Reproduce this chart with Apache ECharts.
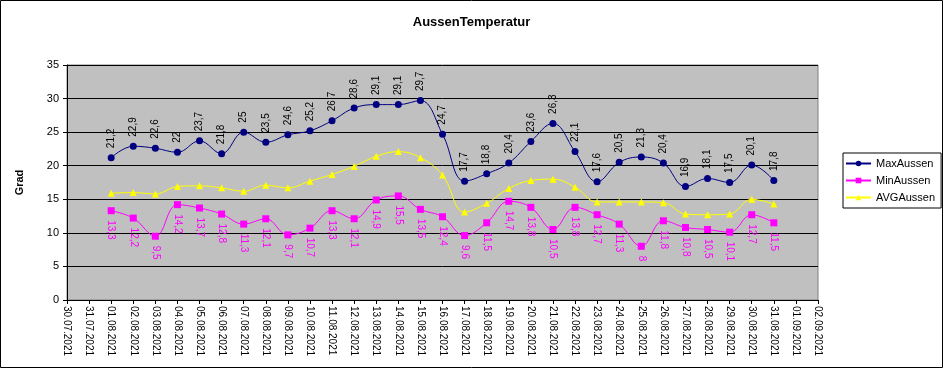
<!DOCTYPE html>
<html>
<head>
<meta charset="utf-8">
<script src="https://cdn.jsdelivr.net/npm/echarts@6/dist/echarts.min.js"></script>
<style>
html,body{margin:0;padding:0;background:#fff;}
#chart{width:943px;height:368px;}
</style>
</head>
<body>
<div id="chart"></div>
<script>
// x-axis category labels (ticks)
const dates = ['30.07.2021','31.07.2021','01.08.2021','02.08.2021','03.08.2021','04.08.2021','05.08.2021','06.08.2021','07.08.2021','08.08.2021','09.08.2021','10.08.2021','11.08.2021','12.08.2021','13.08.2021','14.08.2021','15.08.2021','16.08.2021','17.08.2021','18.08.2021','19.08.2021','20.08.2021','21.08.2021','22.08.2021','23.08.2021','24.08.2021','25.08.2021','26.08.2021','27.08.2021','28.08.2021','29.08.2021','30.08.2021','31.08.2021','01.09.2021','02.09.2021'];
// data starts at 01.08.2021
const dataStart = '01.08.2021';
const maxAussen = [21.2,22.9,22.6,22,23.7,21.8,25,23.5,24.6,25.2,26.7,28.6,29.1,29.1,29.7,24.7,17.7,18.8,20.4,23.6,26.3,22.1,17.6,20.5,21.3,20.4,16.9,18.1,17.5,20.1,17.8];
const minAussen = [13.3,12.2,9.5,14.2,13.7,12.8,11.3,12.1,9.7,10.7,13.3,12.1,14.9,15.5,13.5,12.4,9.6,11.5,14.7,13.8,10.5,13.8,12.7,11.3,8,11.8,10.8,10.5,10.1,12.7,11.5];
const avgAussen = [15.9,16.0,15.8,16.9,17.0,16.7,16.2,17.1,16.7,17.7,18.7,19.9,21.4,22.1,21.2,18.6,13.1,14.4,16.6,17.8,18.0,16.8,14.6,14.6,14.6,14.5,12.8,12.7,12.8,15.0,14.3];
const yTicks = {min:0, max:35, interval:5};

function pad(arr){
  const off = dates.indexOf(dataStart);
  return dates.map((d,i)=>{ const k=i-off; return (k>=0 && k<arr.length) ? arr[k] : null; });
}
const fmt = p => String(p.value).replace('.', ',');
const FONT = 'Liberation Sans, Arial, sans-serif';

const chart = echarts.init(document.getElementById('chart'), null, {renderer:'canvas'});
chart.setOption({
  backgroundColor:'#ffffff',
  animation:false,
  title:{text:'AussenTemperatur', left:'center', top:11,
    textStyle:{fontFamily:FONT, fontSize:13, fontWeight:'bold', color:'#000'}},
  graphic:[{type:'rect', shape:{x:0.5,y:0.5,width:942,height:367}, style:{fill:'none', stroke:'#000', lineWidth:1}, silent:true, z:100}],
  legend:{
    orient:'vertical', left:843, top:153,
    borderColor:'#000', borderWidth:1, padding:[5,6,5,2], itemGap:6,
    itemWidth:25, itemHeight:7,
    textStyle:{fontFamily:FONT, fontSize:11, color:'#000'},
    data:['MaxAussen','MinAussen','AVGAussen']
  },
  grid:{left:67, right:125, top:65, bottom:68, show:true, backgroundColor:'#c0c0c0', borderColor:'#808080', borderWidth:1},
  xAxis:{
    type:'category', data:dates, boundaryGap:false,
    axisLine:{lineStyle:{color:'#000', width:1}},
    axisTick:{show:true, length:4, inside:false, lineStyle:{color:'#000'}},
    axisLabel:{rotate:-90, interval:0, fontFamily:FONT, fontSize:10, color:'#000', margin:6},
    splitLine:{show:false}
  },
  yAxis:{
    type:'value', min:yTicks.min, max:yTicks.max, interval:yTicks.interval,
    name:'Grad', nameLocation:'middle', nameGap:42, nameRotate:90,
    nameTextStyle:{fontFamily:FONT, fontSize:11, fontWeight:'bold', color:'#000'},
    axisLine:{show:true, lineStyle:{color:'#000', width:1}},
    axisTick:{show:true, length:4, lineStyle:{color:'#000'}},
    axisLabel:{fontFamily:FONT, fontSize:11, color:'#000', margin:8},
    splitLine:{show:true, lineStyle:{color:'#000', width:1}}
  },
  series:[
    {name:'MaxAussen', type:'line', data:pad(maxAussen), smooth:0.4,
     symbol:'circle', symbolSize:7, itemStyle:{color:'#000080'}, lineStyle:{color:'#000080', width:1},
     label:{show:true, position:'top', distance:6, rotate:90, align:'left', verticalAlign:'middle',
       formatter:fmt, fontFamily:FONT, fontSize:10, color:'#000'}, z:3},
    {name:'MinAussen', type:'line', data:pad(minAussen), smooth:0.4,
     symbol:'rect', symbolSize:7, itemStyle:{color:'#ff00ff'}, lineStyle:{color:'#ff00ff', width:1},
     label:{show:true, position:'bottom', distance:6, rotate:-90, align:'left', verticalAlign:'middle',
       formatter:fmt, fontFamily:FONT, fontSize:10, color:'#ff00ff'}, z:3},
    {name:'AVGAussen', type:'line', data:pad(avgAussen), smooth:0.4,
     symbol:'triangle', symbolSize:7, itemStyle:{color:'#ffff00'}, lineStyle:{color:'#ffff00', width:1}, z:2}
  ]
});
</script>
</body>
</html>
